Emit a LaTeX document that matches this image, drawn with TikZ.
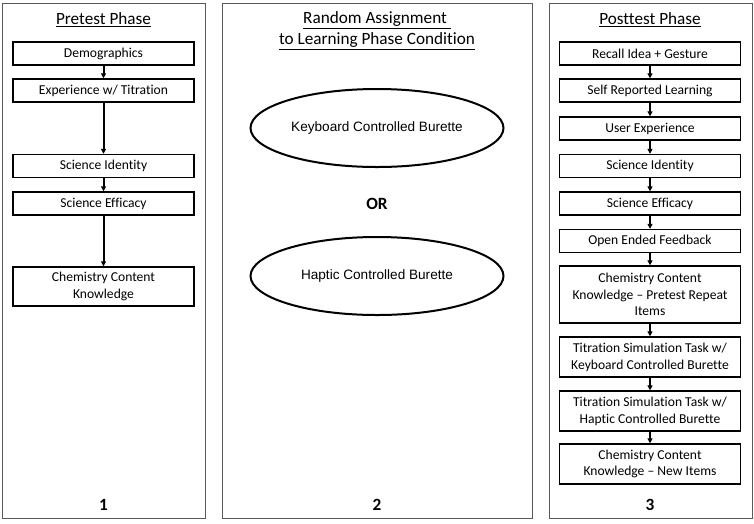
\documentclass[tikz,border=0pt]{standalone}
\usepackage{fontspec}
\setmainfont{Carlito}[Ligatures=NoCommon]
\newfontfamily\arialfont{Liberation Sans}
\usepackage{tikz}
\usetikzlibrary{arrows.meta,positioning,shapes.geometric}

\tikzset{
  panel/.style={draw=black!65,line width=1pt},
  stagebox/.style={draw,line width=1.4pt,minimum width=181pt,minimum height=23pt,
    align=center,inner sep=1pt,font=\fontsize{13.6}{16.8}\selectfont},
  burette/.style={draw,ellipse,line width=2pt,minimum width=253pt,minimum height=78pt,
    font=\arialfont\fontsize{13.6}{16}\selectfont},
  phasetitle/.style={align=center,font=\fontsize{17.2}{21}\selectfont},
  phasenum/.style={font=\bfseries\fontsize{17.2}{19}\selectfont},
  flow/.style={-{Triangle[length=5pt,width=5pt]},line width=2pt}
}

\begin{document}
\begin{tikzpicture}[x=1pt,y=-1pt]
\useasboundingbox (0,0) rectangle (754,523);
% three phase panels
\draw[panel] (2,3) rectangle (205,518);
\draw[panel] (222,3) rectangle (532,518);
\draw[panel] (549,3) rectangle (752,518);

% pretest phase
\node[phasetitle] (pretitle) at (103.5,20) {\underline{Pretest Phase}};
\node[stagebox] (demo) at (103.5,53.5) {Demographics};
\node[stagebox] (exper) at (103.5,90.5) {Experience w/ Titration};
\node[stagebox] (preid) at (103.5,166) {Science Identity};
\node[stagebox] (preeff) at (103.5,203.5) {Science Efficacy};
\node[stagebox,minimum height=39pt] (prechem) at (103.5,286.5) {Chemistry Content\\Knowledge};
\draw[flow] (demo) -- (exper);
\draw[flow] (exper) -- (preid);
\draw[flow] (preid) -- (preeff);
\draw[flow] (preeff) -- (prechem);
\node[phasenum] (num1) at (103.5,505) {1};

% random assignment
\node[phasetitle] (randtitle) at (377,31) {\underline{Random Assignment\ }\\\underline{to Learning Phase Condition}};
\node[burette] (keyb) at (377,128) {Keyboard Controlled Burette};
\node[phasenum] (or) at (377,204) {OR};
\node[burette] (hapt) at (377,276) {Haptic Controlled Burette};
\node[phasenum] (num2) at (377,505) {2};

% posttest phase
\node[phasetitle] (posttitle) at (650,20) {\underline{Posttest Phase}};
\node[stagebox] (recall) at (650,53.5) {Recall Idea + Gesture};
\node[stagebox] (selfrep) at (650,90.5) {Self Reported Learning};
\node[stagebox] (userexp) at (650,128.5) {User Experience};
\node[stagebox] (postid) at (650,166) {Science Identity};
\node[stagebox] (posteff) at (650,203.5) {Science Efficacy};
\node[stagebox] (openfb) at (650,241) {Open Ended Feedback};
\node[stagebox,minimum height=57pt] (postchem) at (650,294.5) {Chemistry Content\\Knowledge -- Pretest Repeat\\Items};
\node[stagebox,minimum height=40pt] (titkey) at (650,357) {Titration Simulation Task w/\\Keyboard Controlled Burette};
\node[stagebox,minimum height=40pt] (tithap) at (650,411) {Titration Simulation Task w/\\Haptic Controlled Burette};
\node[stagebox,minimum height=40pt] (newchem) at (650,464) {Chemistry Content\\Knowledge -- New Items};
\foreach \a/\b in {recall/selfrep,selfrep/userexp,userexp/postid,postid/posteff,
  posteff/openfb,openfb/postchem,postchem/titkey,titkey/tithap,tithap/newchem}
  \draw[flow] (\a) -- (\b);
\node[phasenum] (num3) at (650,505) {3};
\end{tikzpicture}
\end{document}
